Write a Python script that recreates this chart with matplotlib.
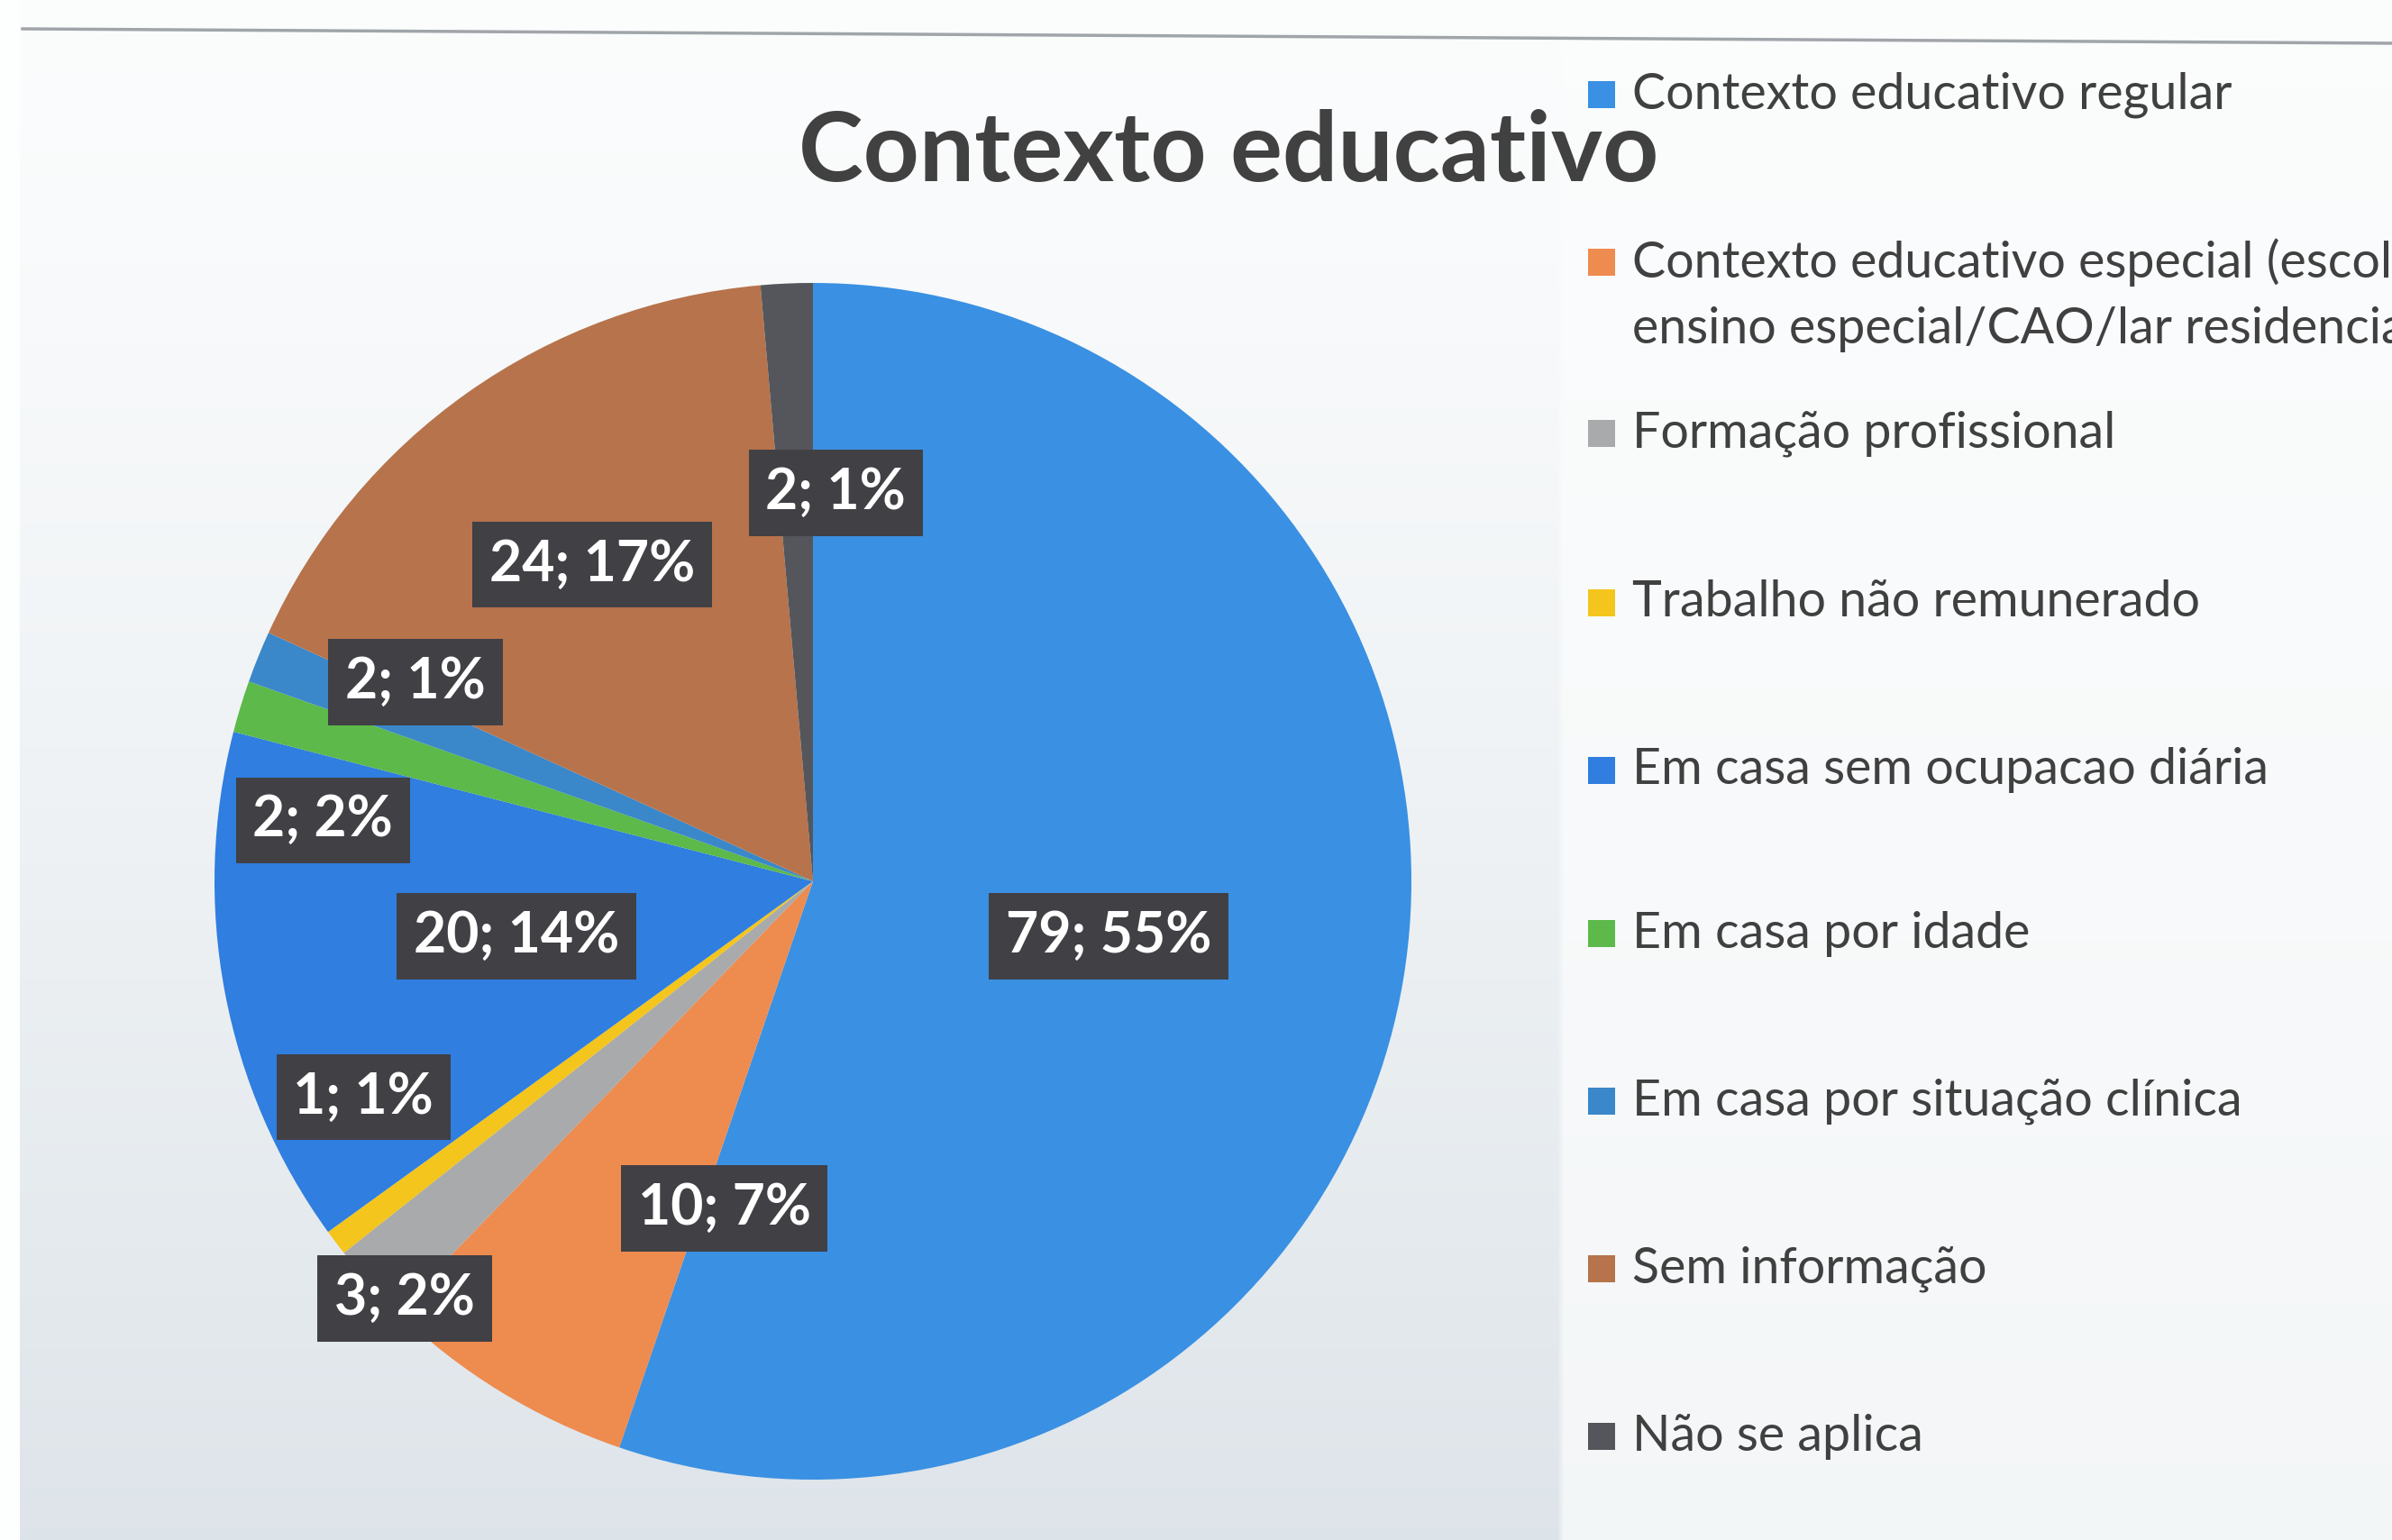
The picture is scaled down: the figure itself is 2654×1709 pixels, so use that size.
import matplotlib
matplotlib.use("Agg")
import numpy as np
import matplotlib.pyplot as plt
from matplotlib.patches import Rectangle
from matplotlib.lines import Line2D

categories = [
    "Contexto educativo regular",
    "Contexto educativo especial (escola de\nensino especial/CAO/lar residencial)",
    "Formação profissional",
    "Trabalho não remunerado",
    "Em casa sem ocupacao diária",
    "Em casa por idade",
    "Em casa por situação clínica",
    "Sem informação",
    "Não se aplica",
]
counts = [79, 10, 3, 1, 20, 2, 2, 24, 2]
percent_labels = [55, 7, 2, 1, 14, 2, 1, 17, 1]
title = "Contexto educativo"

colors = ["#3a90e2", "#ee8b4f", "#a9aaab", "#f4c51c", "#2f7ee0",
          "#5cb94a", "#3a87c9", "#b7734b", "#55565c"]
# label centres (pie radius units)
label_pos = [(0.494, -0.092), (-0.148, -0.547), (-0.682, -0.697),
             (-0.751, -0.361), (-0.496, -0.092), (-0.819, 0.102),
             (-0.664, 0.333), (-0.369, 0.529), (0.038, 0.649)]

W, H = 2654, 1709
fig = plt.figure(figsize=(W / 100, H / 100), dpi=100, facecolor="#f6f8f9")

# scanned-paper background: vertical gradient, greyer in the lower left
bg = fig.add_axes([0, 0, 1, 1], zorder=-5)
bg.axis("off")
t = np.linspace(0, 1, 200)[:, None, None]          # 0 top -> 1 bottom
top = np.array([0.985, 0.99, 0.992])
left_bottom = np.array([0.87, 0.895, 0.915])
right_bottom = np.array([0.955, 0.965, 0.97])
grad = np.ones((200, 2, 3))
grad[:, 0, :] = (top + (left_bottom - top) * t[:, :, 0] ** 1.3)
grad[:, 1, :] = (top + (right_bottom - top) * t[:, :, 0] ** 1.3)
split = 1735 / W
img = np.concatenate([np.repeat(grad[:, :1, :], int(split * 400), axis=1),
                      np.repeat(grad[:, 1:, :], 400 - int(split * 400), axis=1)], axis=1)
bg.imshow(img, extent=[0, 1, 0, 1], aspect="auto", interpolation="bilinear")
bg.add_patch(Rectangle((0, 0), 22 / W, 1, fc="#fdfefe", ec="none"))
bg.set_xlim(0, 1)
bg.set_ylim(0, 1)
fig.lines.append(Line2D([25 / W, 1], [1 - 32 / H, 1 - 48 / H], transform=fig.transFigure,
                        color="#a0a5aa", lw=2.5, zorder=1))

cx, cy, R = 902, 978, 664
ax = fig.add_axes([(cx - R) / W, (H - cy - R) / H, 2 * R / W, 2 * R / H])

wedges, _ = ax.pie(counts, colors=colors, startangle=90, counterclock=False,
                   radius=1, wedgeprops=dict(linewidth=0))
ax.set_xlim(-1, 1)
ax.set_ylim(-1, 1)
ax.set_aspect("equal")
ax.axis("off")

for (x, y), n, p in zip(label_pos, counts, percent_labels):
    ax.text(x, y, f"{n}; {p}%", ha="center", va="center", fontsize=45,
            fontfamily="Lato", fontweight="bold", color="white",
            bbox=dict(boxstyle="square,pad=0.3", fc="#414045", ec="none"))

fig.text(1363 / W, 1 - 170 / H, title, ha="center", va="center", fontsize=78,
         fontfamily="Lato", fontweight="bold", color="#414141")

# legend
entry_y = [105, 291, 481, 669, 855, 1036, 1222, 1408, 1594]
line_gap = 73
for lab, col, yc in zip(categories, colors, entry_y):
    fig.patches.append(Rectangle((1762 / W, 1 - (yc + 15) / H), 30 / W, 30 / H,
                                 transform=fig.transFigure, fc=col, ec="none", zorder=3))
    for k, line in enumerate(lab.split("\n")):
        fig.text(1811 / W, 1 - (yc + k * line_gap) / H, line, ha="left", va="center",
                 fontsize=40, fontfamily="Lato", color="#404040")

fig.savefig("out.png", dpi=100, facecolor=fig.get_facecolor())
